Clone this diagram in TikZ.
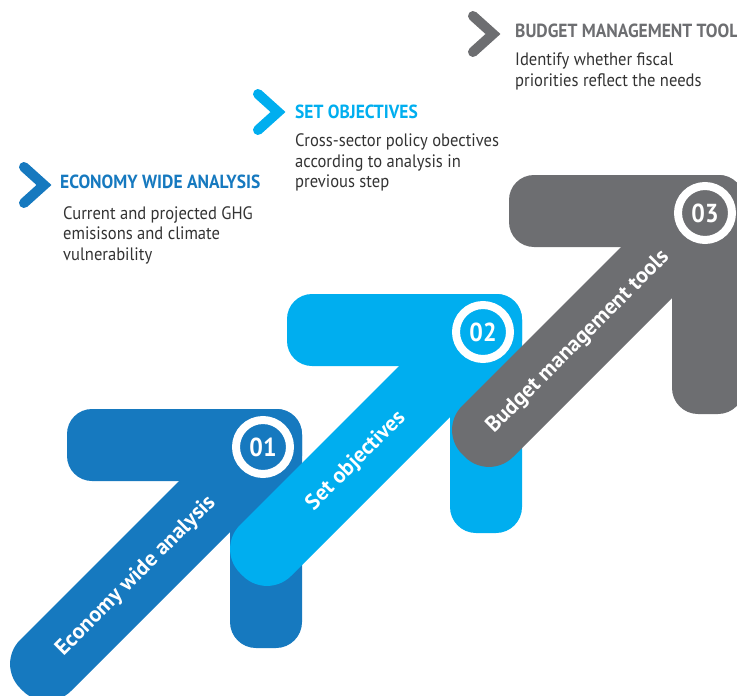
\documentclass[tikz,border=0pt]{standalone}
\usepackage{fontspec}
\newfontfamily\dinfont[FakeStretch=0.92]{PT Sans}
\newfontfamily\labfont{PT Sans}

\definecolor{ecoblue}{HTML}{1679BF}
\definecolor{setblue}{HTML}{00AEEF}
\definecolor{budgrey}{HTML}{6D6E71}
\definecolor{bodygrey}{HTML}{333333}

\begin{document}
\begin{tikzpicture}[%
        x = 1pt, y = -1pt,
        font = \dinfont,
        numdisc/.style = {circle, draw = white, line width = 8, minimum size = 54,
            inner sep = 0, text = white, font = \dinfont\bfseries\fontsize{26}{26}\selectfont},
        steplabel/.style = {text = white, rotate = 45, inner sep = 0,
            font = \labfont\bfseries\fontsize{22}{22}\selectfont},
        headtext/.style = {anchor = base west, inner sep = 0,
            font = \dinfont\bfseries\fontsize{19}{19}\selectfont},
        bodytext/.style = {anchor = north west, inner sep = 0, align = left, text = bodygrey,
            font = \dinfont\fontsize{18}{20.5}\selectfont},
        chevline/.style = {line width = 10, line cap = round, miter limit = 4}
    ]

        % Page frame.
        \useasboundingbox (0, 0) rectangle (737, 696);
        \clip (0, 0) rectangle (737, 696);

        % The three arrows: top bar, right leg, diagonal shaft, disc and label.
        \foreach \ax/\ay/\col/\num/\lab in {%
                266/445/ecoblue/01/Economy wide analysis,
                486/330/setblue/02/Set objectives,
                708/211/budgrey/03/Budget management tools}{
            \begin{scope}[shift = {(\ax, \ay)}]
                \fill[fill = \col, rounded corners = 25] (-199, -36) rectangle (36, 36);
                \fill[fill = \col, rounded corners = 26] (-36, -36) rectangle (36, 203);
                \fill[fill = \col, rounded corners = 34]
                    (-270, 219) -- (-219, 270) -- (31, 20) -- (-20, -31) -- cycle;
                \node[numdisc, fill = \col] (num\num) at (-3, 2) {\num};
                \node[steplabel] (lab\num) at (-130, 131) {\lab};
            \end{scope}
        }

        % Chevrons in front of the headings.
        \draw[chevline, ecoblue] (24, 167) -- (44, 185) -- (24, 203);
        \draw[chevline, setblue] (258, 94) -- (278, 112) -- (258, 130);
        \draw[chevline, budgrey] (473, 16) -- (493, 34) -- (473, 52);

        % Headings.
        \node[headtext, text = ecoblue] (head1) at (60, 188) {ECONOMY WIDE ANALYSIS};
        \node[headtext, text = setblue] (head2) at (295, 118) {SET OBJECTIVES};
        \node[headtext, text = budgrey] (head3) at (515, 37) {BUDGET MANAGEMENT TOOLS};

        % Descriptions under the headings.
        \node[bodytext] (body1) at (63, 206)
            {Current and projected GHG\\emisisons and climate\\vulnerability};
        \node[bodytext] (body2) at (295, 133.5)
            {Cross-sector policy obectives\\according to analysis in\\previous step};
        \node[bodytext] (body3) at (515, 53)
            {Identify whether fiscal\\priorities reflect the needs};
    \end{tikzpicture}
\end{document}
